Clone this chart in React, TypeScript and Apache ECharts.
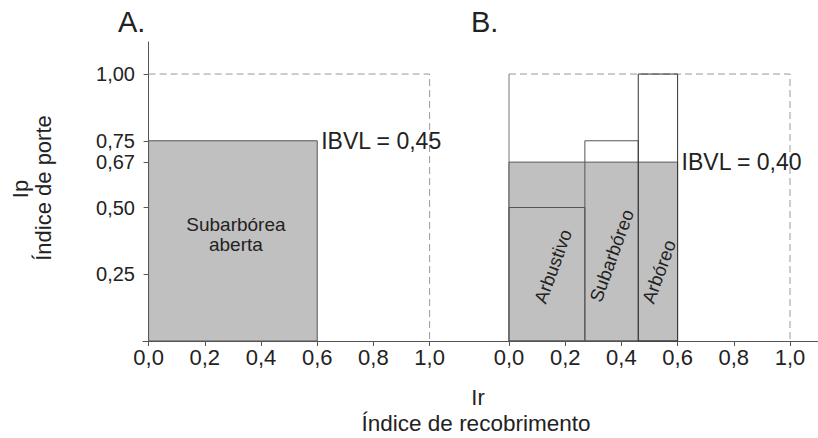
import React, { useEffect, useRef } from "react";
import * as echarts from "echarts";

// ---- data ----
const xTicks = [0, 0.2, 0.4, 0.6, 0.8, 1.0];
const yTicks = [0.25, 0.5, 0.67, 0.75, 1.0];

// Panel A: one stratum (Subarbórea aberta)
const panelALabel = "Subarbórea\naberta";
const panelACover = [0, 0.6];
const panelAHeight = 0.75;

// Panel B: three strata
const strataNames = ["Arbustivo", "Subarbóreo", "Arbóreo"];
const strataStart = [0, 0.27, 0.46];
const strataEnd = [0.27, 0.46, 0.6];
const strataHeight = [0.5, 0.75, 1.0];
// Panel B equivalent block
const panelBCover = [0, 0.6];
const panelBHeight = 0.67;

const ibvlValues = [0.45, 0.4];

// reference frame (dashed) corners
const frameX = [0, 1, 1];
const frameY = [1, 1, 0];

// ---- style / layout ----
const FONT = "'Liberation Sans', Arial, sans-serif";
const TEXT = "#222";
const LINE = "#555";
const FILL = "#c0c0c0";
const DASH = "#999";
const strataLabelY = [0.28, 0.32, 0.26];
const strataLabelDx = [6, 0, 1];

const fmt = (v: number, d: number) => v.toFixed(d).replace(".", ",");

function blockRender(label: string | null, ibvl: number, labelY: number) {
  return (params: any, api: any) => {
    const x0 = api.value(0);
    const x1 = api.value(1);
    const h = api.value(2);
    const p0 = api.coord([x0, 0]);
    const p1 = api.coord([x1, h]);
    const children: any[] = [
      {
        type: "rect",
        shape: { x: p0[0], y: p1[1], width: p1[0] - p0[0], height: p0[1] - p1[1] },
        style: { fill: FILL, stroke: LINE, lineWidth: 1 },
      },
      {
        type: "text",
        x: p1[0] + 4,
        y: p1[1],
        style: {
          text: "IBVL = " + fmt(ibvl, 2),
          fontSize: 23,
          fontFamily: FONT,
          fill: TEXT,
          align: "left",
          verticalAlign: "middle",
        },
      },
    ];
    if (label) {
      const c = api.coord([(x0 + x1) / 2, labelY]);
      children.push({
        type: "text",
        x: c[0] + 3,
        y: c[1],
        style: {
          text: label,
          fontSize: 19,
          lineHeight: 20,
          fontFamily: FONT,
          fill: TEXT,
          align: "center",
          verticalAlign: "middle",
        },
      });
    }
    return { type: "group", children };
  };
}

function strataRender(params: any, api: any) {
  const i = params.dataIndex;
  const x0 = api.value(0);
  const x1 = api.value(1);
  const h = api.value(2);
  const p0 = api.coord([x0, 0]);
  const p1 = api.coord([x1, h]);
  const c = api.coord([(x0 + x1) / 2, strataLabelY[i]]);
  return {
    type: "group",
    children: [
      {
        type: "rect",
        shape: { x: p0[0], y: p1[1], width: p1[0] - p0[0], height: p0[1] - p1[1] },
        style: { fill: "none", stroke: i === 2 ? "#333" : LINE, lineWidth: 1 },
      },
      {
        type: "text",
        x: c[0] + strataLabelDx[i],
        y: c[1],
        rotation: (70 * Math.PI) / 180,
        style: {
          text: strataNames[i],
          fontSize: 18.5,
          fontFamily: FONT,
          fill: TEXT,
          align: "center",
          verticalAlign: "middle",
        },
      },
    ],
  };
}

const xAxisCommon = (gridIndex: number, min: number, max: number) => ({
  type: "value",
  gridIndex,
  min,
  max,
  axisLine: { show: true, onZero: true, lineStyle: { color: LINE, width: 1 } },
  axisTick: { show: true, length: 5, customValues: xTicks, lineStyle: { color: LINE } },
  axisLabel: {
    customValues: xTicks,
    formatter: (v: number) => fmt(v, 1),
    fontSize: 22,
    fontFamily: FONT,
    color: TEXT,
    margin: 5,
  },
  splitLine: { show: false },
});

export default function App() {
  const ref = useRef<HTMLDivElement>(null);
  useEffect(() => {
    if (!ref.current) return;
    const chart = echarts.init(ref.current, null, { renderer: "svg" });
    const frameData = frameX.map((x, i) => [x, frameY[i]]);
    chart.setOption({
      animation: false,
      backgroundColor: "#fff",
      grid: [
        { left: 143, top: 42, width: 366, height: 299 },
        { left: 509, top: 42, width: 309, height: 299 },
      ],
      xAxis: [xAxisCommon(0, -0.02, -0.02 + 366 / 281), xAxisCommon(1, 0, 309 / 281)],
      yAxis: [
        {
          type: "value",
          gridIndex: 0,
          min: 0,
          max: 1.12,
          axisLine: { show: true, onZero: true, lineStyle: { color: LINE, width: 1 } },
          axisTick: { show: true, length: 5, customValues: yTicks, lineStyle: { color: LINE } },
          axisLabel: {
            customValues: yTicks,
            formatter: (v: number) => fmt(v, 2),
            fontSize: 20,
            lineHeight: 20,
            fontFamily: FONT,
            color: TEXT,
            margin: 8,
          },
          splitLine: { show: false },
        },
        { type: "value", gridIndex: 1, min: 0, max: 1.12, show: false },
      ],
      series: [
        {
          type: "line",
          xAxisIndex: 0,
          yAxisIndex: 0,
          data: frameData,
          showSymbol: false,
          symbol: "none",
          lineStyle: { color: DASH, width: 1, type: [7, 4] },
          z: 1,
        },
        {
          type: "custom",
          xAxisIndex: 0,
          yAxisIndex: 0,
          data: [[panelACover[0], panelACover[1], panelAHeight]],
          renderItem: blockRender(panelALabel, ibvlValues[0], 0.4),
          z: 2,
        },
        {
          type: "line",
          xAxisIndex: 1,
          yAxisIndex: 1,
          data: frameData,
          showSymbol: false,
          symbol: "none",
          lineStyle: { color: DASH, width: 1, type: [7, 4] },
          z: 1,
        },
        {
          type: "line",
          xAxisIndex: 1,
          yAxisIndex: 1,
          data: [
            [0, 0],
            [0, 1],
          ],
          showSymbol: false,
          symbol: "none",
          lineStyle: { color: "#777", width: 1 },
          z: 1,
        },
        {
          type: "custom",
          xAxisIndex: 1,
          yAxisIndex: 1,
          data: [[panelBCover[0], panelBCover[1], panelBHeight]],
          renderItem: blockRender(null, ibvlValues[1], 0),
          z: 2,
        },
        {
          type: "custom",
          xAxisIndex: 1,
          yAxisIndex: 1,
          data: strataNames.map((_, i) => [strataStart[i], strataEnd[i], strataHeight[i]]),
          renderItem: strataRender,
          z: 3,
        },
      ],
      graphic: [
        { type: "text", x: 118, y: 22, style: { text: "A.", fontSize: 29, fontFamily: FONT, fill: TEXT, align: "left", verticalAlign: "middle" } },
        { type: "text", x: 471, y: 22, style: { text: "B.", fontSize: 29, fontFamily: FONT, fill: TEXT, align: "left", verticalAlign: "middle" } },
        { type: "text", x: 478, y: 397, style: { text: "Ir", fontSize: 22, fontFamily: FONT, fill: TEXT, align: "center", verticalAlign: "middle" } },
        { type: "text", x: 476, y: 423, style: { text: "Índice de recobrimento", fontSize: 22.5, fontFamily: FONT, fill: TEXT, align: "center", verticalAlign: "middle" } },
        { type: "text", x: 20, y: 189, rotation: Math.PI / 2, style: { text: "Ip", fontSize: 22, fontFamily: FONT, fill: TEXT, align: "center", verticalAlign: "middle" } },
        { type: "text", x: 43, y: 188, rotation: Math.PI / 2, style: { text: "Índice de porte", fontSize: 22, fontFamily: FONT, fill: TEXT, align: "center", verticalAlign: "middle" } },
      ],
    });
    return () => chart.dispose();
  }, []);
  return <div ref={ref} style={{ position: "fixed", left: 0, top: 0, width: 818, height: 438 }} />;
}
